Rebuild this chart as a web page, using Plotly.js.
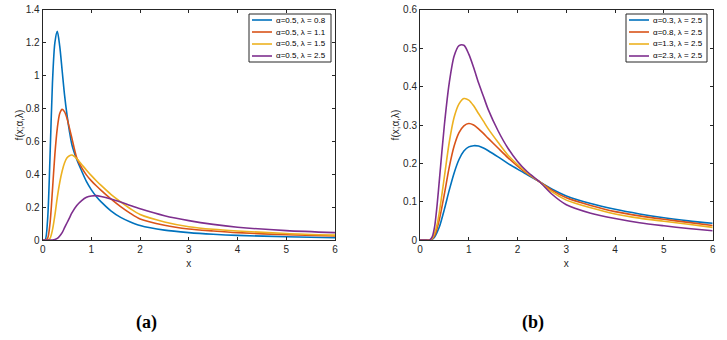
<!DOCTYPE html>
<html>
<head>
<meta charset="utf-8">
<script src="https://cdn.plot.ly/plotly-3.0.1.min.js"></script>
<style>
  html, body { margin: 0; padding: 0; background: #fff; }
  #grafico { width: 727px; height: 340px; }
</style>
</head>
<body>
<div id="grafico"></div>
<script>
// (a) alpha = 0.5, lambda varies
var xA = [0, 0.05, 0.1, 0.15, 0.2, 0.25, 0.3, 0.35, 0.4, 0.45, 0.5, 0.55, 0.6, 0.7, 0.8, 0.9,
          1.0, 1.1, 1.2, 1.4, 1.6, 1.8, 2.0, 2.5, 3, 3.5, 4, 5, 6];
var a_l08 = [0, 0, 0.12, 0.5, 0.95, 1.2, 1.27, 1.18, 1.03, 0.88, 0.76, 0.66, 0.58, 0.49, 0.42, 0.355,
             0.305, 0.265, 0.232, 0.178, 0.138, 0.11, 0.088, 0.06, 0.045, 0.035, 0.028, 0.02, 0.014];
var a_l11 = [0, 0, 0.01, 0.1, 0.3, 0.52, 0.68, 0.77, 0.795, 0.78, 0.74, 0.68, 0.62, 0.5, 0.44, 0.395,
             0.36, 0.33, 0.302, 0.25, 0.203, 0.162, 0.128, 0.09, 0.067, 0.055, 0.045, 0.032, 0.024];
var a_l15 = [0, 0, 0, 0.01, 0.06, 0.15, 0.26, 0.35, 0.42, 0.47, 0.5, 0.513, 0.517, 0.495, 0.46, 0.425,
             0.392, 0.361, 0.332, 0.278, 0.232, 0.19, 0.155, 0.11, 0.081, 0.065, 0.055, 0.04, 0.03];
var a_l25 = [0, 0, 0, 0, 0, 0.003, 0.01, 0.025, 0.045, 0.075, 0.105, 0.135, 0.165, 0.21, 0.24, 0.26,
             0.268, 0.27, 0.265, 0.25, 0.231, 0.21, 0.19, 0.148, 0.118, 0.095, 0.078, 0.057, 0.045];
var namesA = ['α=0.5, λ = 0.8', 'α=0.5, λ = 1.1', 'α=0.5, λ = 1.5', 'α=0.5, λ = 2.5'];

// (b) lambda = 2.5, alpha varies
var xB = [0, 0.1, 0.2, 0.25, 0.3, 0.35, 0.4, 0.5, 0.6, 0.7, 0.8, 0.9, 1.0, 1.1, 1.2, 1.3, 1.4,
          1.6, 1.8, 2.0, 2.2, 2.45, 2.7, 3, 3.5, 4, 4.5, 5, 5.5, 6];
var b_a03 = [0, 0, 0, 0.002, 0.008, 0.02, 0.035, 0.08, 0.13, 0.175, 0.21, 0.232, 0.243, 0.246, 0.245,
             0.24, 0.233, 0.217, 0.2, 0.185, 0.17, 0.152, 0.133, 0.115, 0.095, 0.08, 0.068, 0.058, 0.05, 0.0435];
var b_a08 = [0, 0, 0, 0.003, 0.012, 0.03, 0.055, 0.12, 0.19, 0.245, 0.28, 0.298, 0.304, 0.3, 0.29,
             0.278, 0.265, 0.24, 0.215, 0.193, 0.173, 0.152, 0.13, 0.11, 0.09, 0.074, 0.063, 0.054, 0.046, 0.038];
var b_a13 = [0, 0, 0, 0.004, 0.018, 0.04, 0.075, 0.165, 0.255, 0.32, 0.355, 0.369, 0.365, 0.35, 0.33,
             0.31, 0.29, 0.255, 0.222, 0.197, 0.175, 0.152, 0.126, 0.104, 0.084, 0.068, 0.057, 0.049, 0.041, 0.033];
var b_a23 = [0, 0, 0, 0.008, 0.035, 0.09, 0.16, 0.3, 0.41, 0.48, 0.507, 0.508, 0.485, 0.45, 0.41,
             0.375, 0.34, 0.285, 0.24, 0.205, 0.178, 0.152, 0.12, 0.092, 0.07, 0.056, 0.045, 0.037, 0.03, 0.024];
var namesB = ['α=0.3, λ = 2.5', 'α=0.8, λ = 2.5', 'α=1.3, λ = 2.5', 'α=2.3, λ = 2.5'];

var colori = ['#0072BD', '#D95319', '#EDB120', '#7E2F8E'];

var W = 727, H = 340;
var dati = [];
[a_l08, a_l11, a_l15, a_l25].forEach(function (y, i) {
    dati.push({
        type: 'scatter', mode: 'lines', x: xA, y: y, name: namesA[i],
        xaxis: 'x', yaxis: 'y',
        line: { color: colori[i], width: 1.6, shape: 'spline', smoothing: 0.8 }
    });
});
[b_a03, b_a08, b_a13, b_a23].forEach(function (y, i) {
    dati.push({
        type: 'scatter', mode: 'lines', x: xB, y: y, name: namesB[i],
        xaxis: 'x2', yaxis: 'y2',
        line: { color: colori[i], width: 1.6, shape: 'spline', smoothing: 0.8 }
    });
});

var font = { family: 'Arial, "Liberation Sans", sans-serif', size: 10, color: '#262626' };

function asse(extra) {
    var a = {
        showline: true, linecolor: '#262626', linewidth: 1, mirror: 'ticks',
        ticks: 'inside', ticklen: 3, tickcolor: '#262626', tickfont: font,
        showgrid: false, zeroline: false, automargin: false
    };
    for (var k in extra) a[k] = extra[k];
    return a;
}

// legenda stile matlab, disegnata a mano (quella di plotly ha righe troppo alte)
var shapes = [], annotations = [];
function legenda(nomi, x0, x1, y0, y1) {
    shapes.push({ type: 'rect', xref: 'paper', yref: 'paper',
                  x0: x0 / W, x1: x1 / W, y0: 1 - y0 / H, y1: 1 - y1 / H,
                  line: { color: '#262626', width: 1 }, fillcolor: '#fff' });
    var passo = (y1 - y0) / nomi.length;
    nomi.forEach(function (n, i) {
        var yy = 1 - (y0 + passo * (i + 0.5)) / H;
        shapes.push({ type: 'line', xref: 'paper', yref: 'paper',
                      x0: (x0 + 3) / W, x1: (x0 + 23) / W, y0: yy, y1: yy,
                      line: { color: colori[i], width: 1.6 } });
        annotations.push({ text: n, xref: 'paper', yref: 'paper', x: (x0 + 25) / W, y: yy,
                           xanchor: 'left', yanchor: 'middle', showarrow: false,
                           font: { family: font.family, size: 8, color: '#000' } });
    });
}
legenda(namesA, 249, 331, 14, 62);
legenda(namesB, 626, 707, 14, 62);

var serif = { family: '"Liberation Serif", "Times New Roman", serif', size: 18, color: '#000' };
annotations.push({ text: '<b>(a)</b>', x: 146 / W, y: 1 - 322 / H, xref: 'paper', yref: 'paper',
                   xanchor: 'center', yanchor: 'middle', showarrow: false, font: serif });
annotations.push({ text: '<b>(b)</b>', x: 533 / W, y: 1 - 322 / H, xref: 'paper', yref: 'paper',
                   xanchor: 'center', yanchor: 'middle', showarrow: false, font: serif });

var layout = {
    width: W, height: H,
    margin: { l: 0, r: 0, t: 0, b: 0 },
    paper_bgcolor: '#fff', plot_bgcolor: '#fff',
    showlegend: false,
    xaxis: asse({ domain: [0.0587, 0.4608], range: [0, 6], dtick: 1, anchor: 'y',
                  title: { text: 'x', font: font, standoff: 5 } }),
    yaxis: asse({ domain: [0.2941, 0.9706], range: [0, 1.4], dtick: 0.2, anchor: 'x',
                  title: { text: 'f(x;α,λ)', font: font, standoff: 0 } }),
    xaxis2: asse({ domain: [0.5777, 0.9803], range: [0, 6], dtick: 1, anchor: 'y2',
                   title: { text: 'x', font: font, standoff: 5 } }),
    yaxis2: asse({ domain: [0.2941, 0.9706], range: [0, 0.6], dtick: 0.1, anchor: 'x2',
                   title: { text: 'f(x;α,λ)', font: font, standoff: 1 } }),
    shapes: shapes,
    annotations: annotations
};

Plotly.newPlot('grafico', dati, layout, { staticPlot: true });
</script>
</body>
</html>
